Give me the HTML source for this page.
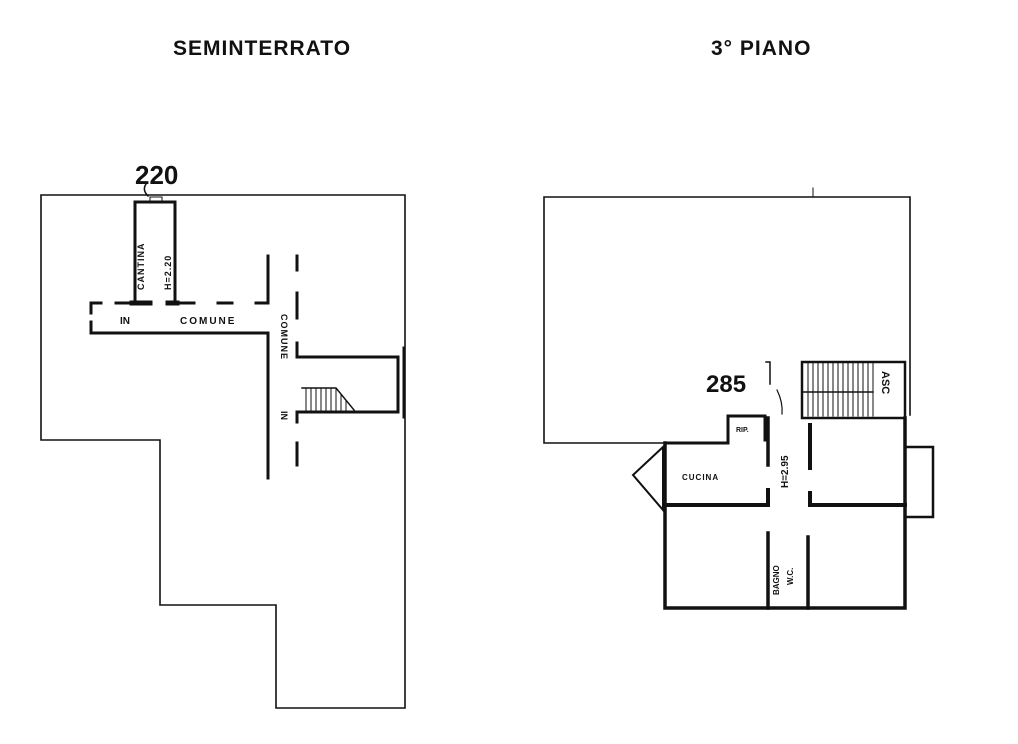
<!DOCTYPE html>
<html><head><meta charset="utf-8"><style>
html,body{margin:0;padding:0;background:#fff;}
svg{display:block}
text{font-family:"Liberation Sans",sans-serif;fill:#111;font-weight:bold}
</style></head><body>
<svg width="1018" height="744" viewBox="0 0 1018 744" xmlns="http://www.w3.org/2000/svg">
<g stroke="#111" fill="none" stroke-linecap="square">
<!-- titles -->
<text x="173" y="55" font-size="21" letter-spacing="1" stroke="none">SEMINTERRATO</text>
<text x="711" y="55" font-size="21" letter-spacing="1" stroke="none">3° PIANO</text>

<!-- LEFT PLAN -->
<polygon points="41,195 405,195 405,708 276,708 276,605 160,605 160,440 41,440" stroke-width="1.6"/>
<!-- cantina -->
<path d="M135,302 V202 H175 V302" stroke-width="3"/>
<rect x="150" y="197" width="12" height="4" stroke-width="1"/>
<path d="M148,196 q-6,-6 -2,-12" stroke-width="1.5"/>
<text x="135" y="184" font-size="26" stroke="none" font-family="Liberation Serif" font-weight="normal" fill="#111">220</text>
<path d="M132,303 H150 M168,303 H177" stroke-width="5"/>
<!-- corridor -->
<path d="M91,313 V303 H101 M116,303 H128 M180,303 H194 M218,303 H232 M256,303 H268 V256" stroke-width="3"/>
<path d="M91,322 V333 H268 V478" stroke-width="3"/>
<path d="M297,256 V270 M297,293 V318 M297,343 V357 H398 V412 H297 V422 M297,443 V465" stroke-width="3"/>
<path d="M404,348 V417" stroke-width="3"/>
<!-- stairs -->
<path d="M302,388 H336 L354,410" stroke-width="1.5"/>
<path d="M306,388 V411 M311,388 V411 M316,388 V411 M321,388 V411 M326,388 V411 M331,388 V411 M336,388 V411 M341,395 V411 M346,401 V411" stroke-width="1"/>
<text x="120" y="324" font-size="10" stroke="none">IN</text>
<text x="180" y="324" font-size="10" stroke="none" letter-spacing="2">COMUNE</text>
<text transform="translate(281,372) rotate(90)" x="-58" y="0" font-size="9" stroke="none" letter-spacing="1">COMUNE</text>
<text transform="translate(281,416) rotate(90)" x="-5" y="0" font-size="9" stroke="none">IN</text>
<text transform="translate(144,290) rotate(-90)" font-size="9" stroke="none" letter-spacing="1">CANTINA</text>
<text transform="translate(171,290) rotate(-90)" font-size="9" stroke="none" letter-spacing="1">H=2.20</text>

<!-- RIGHT PLAN -->
<path d="M544,197 H910 V415 M544,197 V443 H665" stroke-width="1.6"/>
<path d="M813,188 V197" stroke-width="1"/>
<!-- apartment outer -->
<path d="M665,443 V608 H905 V418" stroke-width="3.5"/>
<path d="M665,443 H728 V416 H765 V440" stroke-width="3"/>
<text x="736" y="432" font-size="7" stroke="none">RIP.</text>
<!-- bays -->
<polygon points="663,447 633,475 663,510" stroke-width="2"/>
<rect x="905" y="447" width="28" height="70" stroke-width="2.5"/>
<!-- stair block -->
<rect x="802" y="362" width="103" height="56" stroke-width="2.5"/>
<path d="M802,392 H873" stroke-width="1.5"/>
<path d="M808,362 V416 M813,362 V416 M818,362 V416 M823,362 V416 M828,362 V416 M833,362 V416 M838,362 V416 M843,362 V416 M848,362 V416 M853,362 V416 M858,362 V416 M863,362 V416 M868,362 V416 M873,362 V416" stroke-width="1"/>
<text transform="translate(882,383) rotate(90)" x="-12" y="0" font-size="11" stroke="none">ASC</text>
<!-- internal walls -->
<path d="M768,418 V465" stroke-width="3.5"/>
<path d="M810,425 V468" stroke-width="4"/>
<path d="M665,505 H768 V490" stroke-width="4"/>
<path d="M810,493 V505 H905" stroke-width="4"/>
<path d="M768,533 V608 M808,537 V608" stroke-width="3.5"/>
<path d="M780,605 H800" stroke-width="2" stroke="#fff"/>
<text x="682" y="480" font-size="8" stroke="none" letter-spacing="1">CUCINA</text>
<text transform="translate(788,468) rotate(-90)" x="-20" y="0" font-size="10" stroke="none">H=2.95</text>
<text transform="translate(779,595) rotate(-90)" font-size="8" stroke="none">BAGNO</text>
<text transform="translate(793,585) rotate(-90)" font-size="8" stroke="none">W.C.</text>
<text x="706" y="392" font-size="24" stroke="none" font-family="Liberation Serif" font-weight="normal">285</text>
<path d="M766,362 H770 V384" stroke-width="1.5"/>
<path d="M777,390 q6,12 5,24" stroke-width="1.2"/>
</g>
</svg>
</body></html>
